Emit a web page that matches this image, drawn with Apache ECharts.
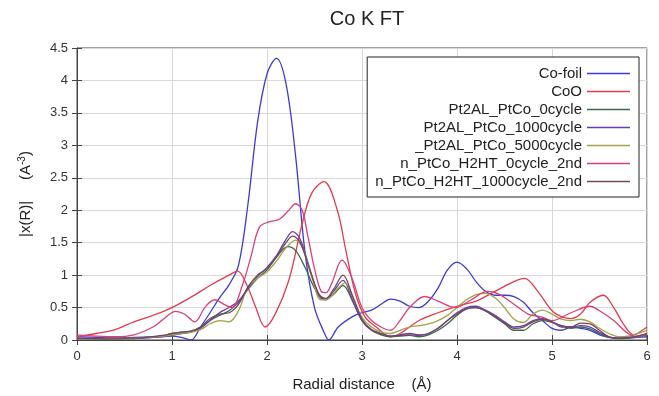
<!DOCTYPE html>
<html>
<head>
<meta charset="utf-8">
<script src="https://cdn.jsdelivr.net/npm/echarts@6/dist/echarts.min.js"></script>
<style>html,body{margin:0;padding:0;background:#fff;}#c{width:659px;height:396px;}</style>
</head>
<body>
<div id="c"></div>
<script>
var seriesNames = ['Co-foil','CoO','Pt2AL_PtCo_0cycle','Pt2AL_PtCo_1000cycle','_Pt2AL_PtCo_5000cycle','n_PtCo_H2HT_0cycle_2nd','n_PtCo_H2HT_1000cycle_2nd'];
var xTicks = [0,1,2,3,4,5,6];
var yTicks = [0,0.5,1,1.5,2,2.5,3,3.5,4,4.5];

var coFoil = [[0,0.05],[0.2,0.04],[0.4,0.03],[0.6,0.04],[0.8,0.05],[1.0,0.06],[1.1,0.04],[1.2,0.0],[1.3,0.2],[1.4,0.42],[1.5,0.65],[1.6,0.85],[1.7,1.15],[1.8,2.1],[1.9,3.35],[2.0,4.1],[2.1,4.34],[2.2,3.95],[2.3,2.85],[2.4,1.35],[2.5,0.5],[2.6,0.12],[2.65,0.0],[2.75,0.2],[2.9,0.36],[3.0,0.42],[3.1,0.46],[3.2,0.55],[3.3,0.63],[3.4,0.6],[3.5,0.52],[3.6,0.5],[3.7,0.6],[3.8,0.8],[3.9,1.08],[4.0,1.2],[4.1,1.1],[4.2,0.9],[4.3,0.75],[4.4,0.69],[4.5,0.69],[4.6,0.67],[4.7,0.58],[4.8,0.42],[4.9,0.3],[5.0,0.18],[5.1,0.15],[5.2,0.2],[5.3,0.18],[5.4,0.15],[5.5,0.08],[5.6,0.04],[5.7,0.03],[5.8,0.03],[5.9,0.04],[6.0,0.05]];
var coO = [[0,0.05],[0.2,0.1],[0.4,0.16],[0.6,0.28],[0.8,0.38],[1.0,0.5],[1.2,0.66],[1.4,0.84],[1.6,1.0],[1.69,1.06],[1.79,0.84],[1.88,0.51],[1.98,0.2],[2.09,0.41],[2.23,0.92],[2.37,1.79],[2.47,2.26],[2.6,2.44],[2.74,2.0],[2.83,1.38],[2.93,0.72],[3.03,0.36],[3.15,0.2],[3.3,0.05],[3.4,0.1],[3.6,0.3],[3.8,0.42],[4.0,0.52],[4.2,0.6],[4.4,0.75],[4.6,0.9],[4.71,0.95],[4.85,0.75],[5.0,0.45],[5.1,0.36],[5.2,0.33],[5.3,0.4],[5.4,0.58],[5.54,0.69],[5.65,0.5],[5.75,0.25],[5.86,0.08],[5.95,0.15],[6.0,0.2]];
var pt2al0 = [[0,0.02],[0.3,0.01],[0.6,0.02],[0.9,0.06],[1.0,0.1],[1.1,0.12],[1.2,0.13],[1.3,0.2],[1.4,0.3],[1.5,0.38],[1.6,0.45],[1.7,0.58],[1.8,0.78],[1.9,0.95],[2.0,1.08],[2.1,1.28],[2.22,1.44],[2.3,1.38],[2.4,1.12],[2.5,0.8],[2.6,0.62],[2.7,0.7],[2.8,0.84],[2.9,0.6],[3.0,0.3],[3.1,0.15],[3.2,0.08],[3.3,0.05],[3.4,0.06],[3.5,0.07],[3.6,0.05],[3.7,0.08],[3.8,0.15],[3.9,0.25],[4.0,0.38],[4.1,0.48],[4.2,0.5],[4.3,0.45],[4.4,0.35],[4.5,0.25],[4.6,0.15],[4.7,0.15],[4.8,0.25],[4.9,0.3],[5.0,0.27],[5.1,0.22],[5.2,0.18],[5.3,0.2],[5.4,0.17],[5.5,0.1],[5.6,0.04],[5.7,0.02],[5.8,0.03],[5.9,0.05],[6.0,0.08]];
var pt2al1000 = [[0,0.03],[0.3,0.02],[0.6,0.03],[0.9,0.05],[1.0,0.07],[1.1,0.1],[1.2,0.12],[1.3,0.18],[1.4,0.3],[1.5,0.42],[1.6,0.5],[1.7,0.6],[1.8,0.8],[1.9,0.98],[2.0,1.12],[2.1,1.3],[2.2,1.55],[2.27,1.67],[2.35,1.55],[2.45,1.1],[2.55,0.68],[2.62,0.62],[2.7,0.75],[2.8,0.92],[2.9,0.62],[3.0,0.3],[3.1,0.15],[3.2,0.1],[3.3,0.06],[3.4,0.08],[3.5,0.1],[3.6,0.08],[3.7,0.1],[3.8,0.18],[3.9,0.3],[4.0,0.42],[4.1,0.5],[4.2,0.52],[4.3,0.46],[4.4,0.38],[4.5,0.28],[4.6,0.2],[4.7,0.22],[4.8,0.3],[4.9,0.33],[5.0,0.28],[5.1,0.22],[5.2,0.2],[5.3,0.22],[5.4,0.2],[5.5,0.12],[5.6,0.05],[5.7,0.03],[5.8,0.04],[5.9,0.06],[6.0,0.1]];
var pt2al5000 = [[0,0.02],[0.3,0.02],[0.6,0.03],[0.9,0.06],[1.0,0.08],[1.1,0.1],[1.2,0.12],[1.3,0.16],[1.4,0.25],[1.5,0.3],[1.6,0.28],[1.7,0.45],[1.8,0.82],[1.9,0.95],[2.0,1.05],[2.1,1.22],[2.2,1.42],[2.3,1.54],[2.38,1.4],[2.47,0.98],[2.57,0.62],[2.65,0.64],[2.75,0.8],[2.82,0.88],[2.92,0.6],[3.0,0.35],[3.1,0.2],[3.2,0.12],[3.3,0.1],[3.4,0.15],[3.5,0.2],[3.6,0.22],[3.7,0.25],[3.8,0.3],[3.9,0.38],[4.0,0.5],[4.1,0.62],[4.2,0.7],[4.3,0.72],[4.4,0.65],[4.5,0.5],[4.6,0.32],[4.7,0.27],[4.8,0.4],[4.9,0.46],[5.0,0.4],[5.1,0.32],[5.2,0.3],[5.3,0.32],[5.4,0.28],[5.5,0.18],[5.6,0.1],[5.7,0.05],[5.8,0.06],[5.9,0.1],[6.0,0.15]];
var nPtCo0 = [[0,0.08],[0.2,0.06],[0.4,0.05],[0.6,0.08],[0.8,0.2],[0.9,0.31],[1.04,0.44],[1.13,0.4],[1.24,0.28],[1.35,0.51],[1.45,0.62],[1.56,0.54],[1.63,0.5],[1.74,0.84],[1.83,1.28],[1.92,1.74],[2.02,1.82],[2.13,1.86],[2.23,2.0],[2.3,2.1],[2.37,2.0],[2.43,1.6],[2.5,1.1],[2.57,0.75],[2.62,0.73],[2.68,0.87],[2.79,1.23],[2.89,0.97],[3.0,0.5],[3.1,0.3],[3.2,0.2],[3.3,0.15],[3.4,0.3],[3.5,0.5],[3.66,0.67],[3.8,0.6],[3.98,0.5],[4.15,0.62],[4.32,0.75],[4.45,0.7],[4.6,0.55],[4.75,0.4],[4.9,0.35],[5.0,0.3],[5.2,0.42],[5.4,0.52],[5.5,0.45],[5.65,0.3],[5.8,0.1],[5.9,0.05],[6.0,0.1]];
var nPtCo1000 = [[0,0.02],[0.3,0.03],[0.6,0.03],[0.9,0.07],[1.0,0.1],[1.1,0.12],[1.2,0.14],[1.3,0.2],[1.4,0.33],[1.5,0.4],[1.6,0.42],[1.7,0.55],[1.8,0.82],[1.9,1.0],[2.0,1.1],[2.1,1.28],[2.2,1.5],[2.27,1.6],[2.35,1.5],[2.45,1.08],[2.55,0.7],[2.62,0.64],[2.7,0.78],[2.8,1.0],[2.9,0.68],[3.0,0.32],[3.1,0.16],[3.2,0.1],[3.3,0.06],[3.4,0.07],[3.5,0.08],[3.6,0.07],[3.7,0.1],[3.8,0.18],[3.9,0.3],[4.0,0.4],[4.1,0.48],[4.2,0.5],[4.3,0.45],[4.4,0.36],[4.5,0.26],[4.6,0.18],[4.7,0.2],[4.8,0.28],[4.9,0.32],[5.0,0.28],[5.1,0.2],[5.2,0.2],[5.3,0.26],[5.4,0.25],[5.5,0.15],[5.6,0.05],[5.7,0.03],[5.8,0.04],[5.9,0.06],[6.0,0.1]];

var seriesData = [coFoil, coO, pt2al0, pt2al1000, pt2al5000, nPtCo0, nPtCo1000];
var colors = ['#3b3bdc','#e33b4b','#3d6b45','#6a3bb5','#a3a347','#dd3f78','#74475e'];
var FONT = "'Liberation Sans', Arial, sans-serif";

var chart = echarts.init(document.getElementById('c'), null, {renderer:'canvas'});
var series = seriesData.map(function(d, i){
  return {
    name: seriesNames[i], type: 'line', data: d, smooth: 0.35,
    symbol: 'none', showSymbol: false,
    lineStyle: {width: 1.3, color: colors[i]},
    itemStyle: {color: colors[i]},
    xAxisIndex: 0, yAxisIndex: 0, z: 3
  };
});
chart.setOption({
  animation: false,
  backgroundColor: '#fff',
  title: {text: 'Co K FT', left: 362, top: 4, textAlign: 'center',
    textStyle: {fontFamily: FONT, fontSize: 20, fontWeight: 'normal', color: '#222'}},
  grid: {left: 77, right: 12, top: 48, bottom: 56, show: true, borderColor: '#444', borderWidth: 1, backgroundColor: 'transparent', outerBoundsMode: 'none', containLabel: false},
  legend: {
    orient: 'vertical', right: 20, top: 57, align: 'right',
    backgroundColor: '#fff', borderColor: '#222', borderWidth: 1,
    padding: [9, 9, 8, 8], itemGap: 3, itemWidth: 43, itemHeight: 1.5,
    icon: 'rect',
    textStyle: {fontFamily: FONT, fontSize: 15, color: '#222'},
    data: seriesNames, z: 10
  },
  xAxis: [{
    type: 'value', min: xTicks[0], max: xTicks[xTicks.length-1], interval: 1,
    name: 'Radial distance    (Å)', nameLocation: 'middle', nameGap: 37, nameMoveOverlap: false,
    nameTextStyle: {fontFamily: FONT, fontSize: 15, color: '#222'},
    axisLine: {show: true, lineStyle: {color: '#444'}},
    axisTick: {show: true, inside: true, length: 5, lineStyle: {color: '#444'}},
    axisLabel: {fontFamily: FONT, fontSize: 13, color: '#333', margin: 10},
    splitLine: {show: true, lineStyle: {color: '#d9d9d9', width: 1}}
  },{
    type: 'value', position: 'top', min: xTicks[0], max: xTicks[xTicks.length-1], interval: 1,
    axisLine: {show: false}, axisLabel: {show: false}, splitLine: {show: false},
    axisTick: {show: true, inside: true, length: 5, lineStyle: {color: '#444'}}
  }],
  yAxis: [{
    type: 'value', min: yTicks[0], max: yTicks[yTicks.length-1], interval: 0.5,
    name: '{a||x(R)|}     {a|(A}{s|-3}{a|)}', nameLocation: 'middle', nameGap: 42, nameMoveOverlap: false,
    nameTextStyle: {fontFamily: FONT, fontSize: 15, color: '#222',
      rich: {a: {fontFamily: FONT, fontSize: 15, color: '#222'}, s: {fontFamily: FONT, fontSize: 10, color: '#222', verticalAlign: 'top', padding: [0,0,8,0]}}},
    axisLine: {show: true, lineStyle: {color: '#444'}},
    axisTick: {show: true, inside: true, length: 5, lineStyle: {color: '#444'}},
    axisLabel: {fontFamily: FONT, fontSize: 13, color: '#333', margin: 9},
    splitLine: {show: true, lineStyle: {color: '#d9d9d9', width: 1}}
  },{
    type: 'value', position: 'right', min: yTicks[0], max: yTicks[yTicks.length-1], interval: 0.5,
    axisLine: {show: false}, axisLabel: {show: false}, splitLine: {show: false},
    axisTick: {show: true, inside: true, length: 5, lineStyle: {color: '#444'}}
  }],
  series: series
});
</script>
</body>
</html>
